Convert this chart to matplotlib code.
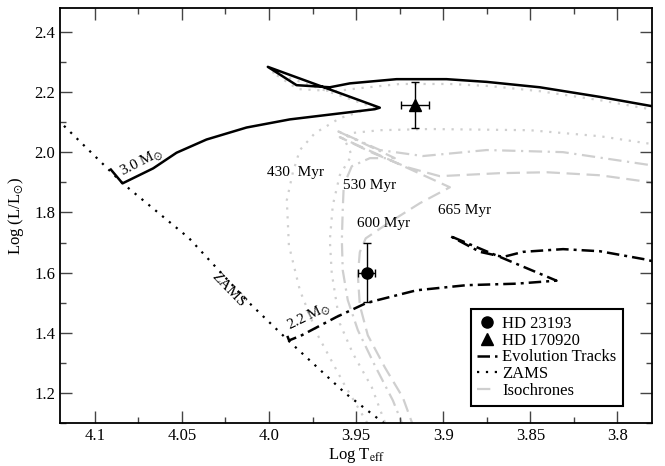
import matplotlib
matplotlib.use('Agg')
import matplotlib.pyplot as plt
from matplotlib.lines import Line2D

plt.rcParams['font.family'] = ['Liberation Serif', 'DejaVu Serif']
plt.rcParams['mathtext.fontset'] = 'stix'

# ZAMS
zams_logt = [4.125, 4.084, 4.046, 4.013, 3.989, 3.956, 3.930]
zams_logl = [2.13, 1.897, 1.715, 1.508, 1.374, 1.197, 1.08]

# evolution track, 3.0 Msun
trk30_logt = [4.0908, 4.0841, 4.0665, 4.0531, 4.0359, 4.0129, 3.9881, 3.9393, 3.9364,
              4.0007, 3.9842, 3.9651, 3.9536, 3.9268, 3.8981, 3.8751, 3.8446, 3.8101, 3.7801, 3.77]
trk30_logl = [1.943, 1.897, 1.947, 1.999, 2.043, 2.083, 2.110, 2.144, 2.149,
              2.285, 2.224, 2.217, 2.230, 2.244, 2.244, 2.235, 2.217, 2.185, 2.154, 2.14]

# evolution track, 2.2 Msun
trk22_logt = [3.9895, 3.9885, 3.9813, 3.9613, 3.944, 3.9153, 3.8866, 3.8579, 3.835,
              3.8962, 3.879, 3.8656, 3.8541, 3.8312, 3.8101, 3.7833, 3.7757]
trk22_logl = [1.389, 1.374, 1.391, 1.452, 1.499, 1.541, 1.558, 1.563, 1.573,
              1.722, 1.669, 1.652, 1.669, 1.678, 1.671, 1.643, 1.631]

# isochrones
iso430_logt = [3.941, 3.9565, 3.972, 3.9823, 3.9886, 3.9898, 3.9863, 3.9823, 3.9737, 3.9594,
               3.945, 3.9387, 3.9984, 3.9835, 3.9622, 3.9479, 3.9249, 3.8962, 3.8732, 3.8446,
               3.8101, 3.7756]
iso430_logl = [1.074, 1.224, 1.391, 1.541, 1.691, 1.841, 1.934, 2.008, 2.064, 2.114,
               2.141, 2.148, 2.268, 2.211, 2.204, 2.214, 2.228, 2.228, 2.221, 2.204,
               2.174, 2.138]

iso530_logt = [3.9318, 3.941, 3.9519, 3.9594, 3.964, 3.9651, 3.9634, 3.9594, 3.9525, 3.9565,
               3.9536, 3.9364, 3.9077, 3.8503, 3.8101, 3.7756]
iso530_logl = [1.074, 1.218, 1.331, 1.431, 1.598, 1.708, 1.824, 1.924, 1.991, 2.041,
               2.064, 2.074, 2.078, 2.074, 2.054, 2.024]

iso600_logt = [3.922, 3.9289, 3.9393, 3.949, 3.9548, 3.9577, 3.9582, 3.9577, 3.9571, 3.9525,
               3.9421, 3.9278, 3.9617, 3.9364, 3.9117, 3.875, 3.8313, 3.7814, 3.7756]
iso600_logl = [1.074, 1.174, 1.291, 1.408, 1.508, 1.608, 1.708, 1.808, 1.891, 1.954,
               1.981, 1.981, 2.074, 2.008, 1.988, 2.008, 2.001, 1.958, 1.951]

iso665_logt = [3.9163, 3.9232, 3.9335, 3.9433, 3.9479, 3.949, 3.9479, 3.9445, 3.9307, 3.9134,
               3.8962, 3.9594, 3.9404, 3.9209, 3.902, 3.8675, 3.8405, 3.8101, 3.7814, 3.7756]
iso665_logl = [1.074, 1.184, 1.284, 1.391, 1.491, 1.591, 1.668, 1.714, 1.768, 1.831,
               1.884, 2.051, 1.998, 1.951, 1.921, 1.931, 1.934, 1.924, 1.901, 1.894]

# stars
stars = ['HD 23193', 'HD 170920']
star_logt = [3.944, 3.916]
star_logt_err = [0.005, 0.008]
star_logl = [1.60, 2.158]
star_logl_err = [0.098, 0.078]

iso_labels = ['430  Myr', '530 Myr', '600 Myr', '665 Myr']
iso_label_logt = [3.985, 3.9421, 3.9341, 3.8876]
iso_label_logl = [1.934, 1.891, 1.764, 1.808]

xticks = [4.1, 4.05, 4.0, 3.95, 3.9, 3.85, 3.8]
xticklabels = ['4.1', '4.05', '4.0', '3.95', '3.9', '3.85', '3.8']
yticks = [1.2, 1.4, 1.6, 1.8, 2.0, 2.2, 2.4]
yticklabels = ['1.2', '1.4', '1.6', '1.8', '2.0', '2.2', '2.4']

grey = '#cfcfcf'

fig = plt.figure(figsize=(6.65, 4.66), dpi=100)
ax = fig.add_axes([0.0902, 0.0929, 0.8907, 0.8893])

# isochrones (drawn underneath)
ax.plot(iso430_logt, iso430_logl, color=grey, lw=1.6, ls=(0, (1, 3)), zorder=1)
ax.plot(iso530_logt, iso530_logl, color=grey, lw=1.6, ls=(0, (1, 3)), zorder=1)
ax.plot(iso600_logt, iso600_logl, color=grey, lw=1.6, ls=(0, (6, 2.5, 1, 2.5)), zorder=1)
ax.plot(iso665_logt, iso665_logl, color=grey, lw=1.6, ls=(0, (6, 3)), zorder=1)

# ZAMS and tracks
ax.plot(zams_logt, zams_logl, color='black', lw=1.6, ls=(0, (1, 3)), zorder=2)
ax.plot(trk30_logt, trk30_logl, color='black', lw=1.8, zorder=3)
ax.plot(trk22_logt, trk22_logl, color='black', lw=1.8, ls=(0, (5, 2, 1.2, 2)), zorder=3)

# stars with error bars
ax.errorbar(star_logt[0], star_logl[0], xerr=star_logt_err[0], yerr=star_logl_err[0],
            fmt='o', color='black', ms=8, elinewidth=1, capsize=3, capthick=1, zorder=4)
ax.errorbar(star_logt[1], star_logl[1], xerr=star_logt_err[1], yerr=star_logl_err[1],
            fmt='^', color='black', ms=8, elinewidth=1, capsize=3, capthick=1, zorder=4)

# labels on the plot
for lab, xt, yl in zip(iso_labels, iso_label_logt, iso_label_logl):
    ax.text(xt, yl, lab, fontsize=11, ha='center', va='center', zorder=5)
ax.text(4.073, 1.964, '3.0 M$_{\\odot}$', fontsize=11, rotation=27, ha='center', va='center')
ax.text(3.977, 1.452, '2.2 M$_{\\odot}$', fontsize=11, rotation=26, ha='center', va='center')
ax.text(4.023, 1.541, 'ZAMS', fontsize=11, rotation=-46, ha='center', va='center')

ax.set_xlim(4.12, 3.78)
ax.set_ylim(1.1, 2.48)
ax.set_xticks(xticks)
ax.set_xticklabels(xticklabels)
ax.set_yticks(yticks)
ax.set_yticklabels(yticklabels)
ax.set_xticks([4.075, 4.025, 3.975, 3.925, 3.875, 3.825], minor=True)
ax.set_yticks([1.1, 1.3, 1.5, 1.7, 1.9, 2.1, 2.3], minor=True)
ax.tick_params(which='both', direction='in', top=True, right=True, labelsize=12,
               color='#444444')
ax.tick_params(which='major', length=8.5, width=1)
ax.tick_params(which='minor', length=4.5, width=1)
for s in ax.spines.values():
    s.set_linewidth(1.3)

ax.set_xlabel('Log T$_{\\mathrm{eff}}$', fontsize=12, labelpad=2)
ax.set_ylabel('Log (L/L$_{\\odot}$)', fontsize=12, labelpad=6)

handles = [
    Line2D([], [], marker='o', ls='none', color='black', ms=8),
    Line2D([], [], marker='^', ls='none', color='black', ms=8),
    Line2D([], [], color='black', lw=1.8, ls=(0, (5, 2, 1.2, 2))),
    Line2D([], [], color='black', lw=1.6, ls=(0, (1, 3))),
    Line2D([], [], color=grey, lw=1.6, ls=(0, (6, 3))),
]
names = ['HD 23193', 'HD 170920', 'Evolution Tracks', 'ZAMS', 'Isochrones']
leg = ax.legend(handles, names, loc='lower right', bbox_to_anchor=(0.951, 0.041),
                borderaxespad=0, fontsize=12, handlelength=1.2, handletextpad=0.3,
                labelspacing=0.05, fancybox=False, framealpha=1, edgecolor='black',
                borderpad=0.4)
leg.get_frame().set_linewidth(1.5)

plt.savefig('out.png', dpi=100)
